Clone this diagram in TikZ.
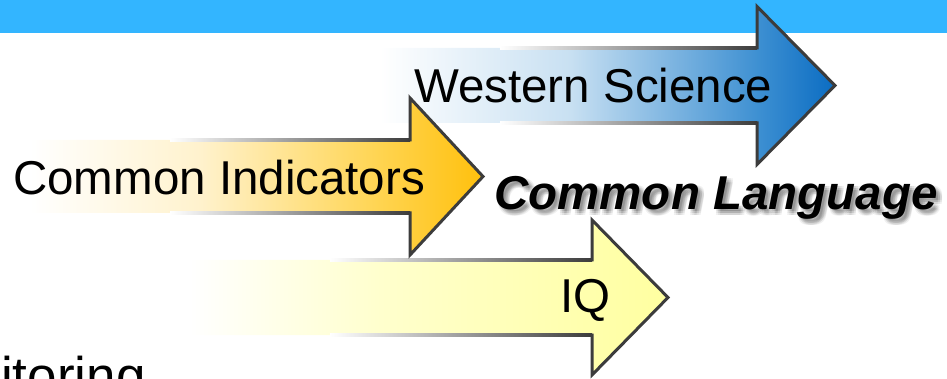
\documentclass[tikz,border=0pt]{standalone}
\usepackage{fontspec}
\setmainfont{Liberation Sans}
\definecolor{barblue}{RGB}{51,181,255}
\definecolor{wsA}{RGB}{200,224,242}
\definecolor{wsB}{RGB}{62,144,210}
\definecolor{wsC}{RGB}{10,108,194}
\definecolor{ciA}{RGB}{255,242,205}
\definecolor{ciB}{RGB}{255,212,80}
\definecolor{ciC}{RGB}{255,192,12}
\definecolor{iqA}{RGB}{255,255,205}
\definecolor{iqB}{RGB}{255,255,160}
\definecolor{strk}{RGB}{60,60,60}
\tikzset{
  lbl/.style={inner sep=0pt, anchor=base west, text=black, font=\fontsize{47.5pt}{57pt}\selectfont},
  lblbi/.style={lbl, font=\fontsize{47.5pt}{57pt}\selectfont\bfseries\itshape},
  headline/.style={draw=strk, line width=3pt, line join=miter, miter limit=10},
}
\begin{document}
\begin{tikzpicture}[x=1pt,y=-1pt]
\useasboundingbox (0,0) rectangle (947,379);
\clip (0,0) rectangle (947,379);
% top bar
\fill[barblue] (0,0) rectangle (947,33);

% ---------- Western Science arrow ----------
\begin{scope}
\clip (315,48) -- (757,48) -- (757,6.5) -- (835,85.5) -- (757,164.5) -- (757,123) -- (315,123) -- cycle;
\shade[left color=white, right color=wsA] (380,0) rectangle (570.5,170);
\shade[left color=wsA, right color=wsB] (570,0) rectangle (757.5,170);
\shade[left color=wsB, right color=wsC] (757,0) rectangle (836,170);
\end{scope}
\shade[left color=white, right color=strk] (500,46.5) rectangle (757,49.5);
\shade[left color=white, right color=strk] (500,121.5) rectangle (757,124.5);
\draw[headline] (755,48) -- (757,48) -- (757,6.5) -- (835,85.5) -- (757,164.5) -- (757,123) -- (755,123);

% ---------- IQ arrow ----------
\begin{scope}
\clip (148,260) -- (592,260) -- (592,220) -- (668,297.5) -- (592,375) -- (592,335) -- (148,335) -- cycle;
\shade[left color=white, right color=iqA] (190,200) rectangle (380.5,380);
\shade[left color=iqA, right color=iqB] (380,200) rectangle (670,380);
\end{scope}
\shade[left color=white, right color=strk] (330,258.5) rectangle (592,261.5);
\shade[left color=white, right color=strk] (330,333.5) rectangle (592,336.5);
\draw[headline] (590,260) -- (592,260) -- (592,220) -- (668,297.5) -- (592,375) -- (592,335) -- (590,335);

% ---------- Common Indicators arrow ----------
\begin{scope}
\clip (0,140) -- (410,140) -- (410,98) -- (483,176.5) -- (410,255) -- (410,213) -- (0,213) -- cycle;
\shade[left color=white, right color=ciA] (30,90) rectangle (200.5,260);
\shade[left color=ciA, right color=ciB] (200,90) rectangle (380.5,260);
\shade[left color=ciB, right color=ciC] (380,90) rectangle (484,260);
\end{scope}
\shade[left color=white, right color=strk] (170,138.5) rectangle (410,141.5);
\shade[left color=white, right color=strk] (170,211.5) rectangle (410,214.5);
\draw[headline] (408,140) -- (410,140) -- (410,98) -- (483,176.5) -- (410,255) -- (410,213) -- (408,213);

% ---------- texts ----------
\node[lbl] (ws) at (414,103) {Western Science};
\node[lbl] (ci) at (13,195) {Common Indicators};
\node[lbl] (iq) at (560,312) {IQ};
\foreach \dx in {2,4,6}{
  \foreach \dy in {2,4,6}{
    \node[lblbi, text=black, opacity=0.06] (sh\dx\dy) at (494+\dx,210+\dy) {Common Language};
  }
}
\node[lblbi] (cl) at (494,210) {Common Language};
\node[lbl, font=\fontsize{53pt}{63pt}\selectfont] (mon) at (1,394) {itoring};
\end{tikzpicture}
\end{document}
